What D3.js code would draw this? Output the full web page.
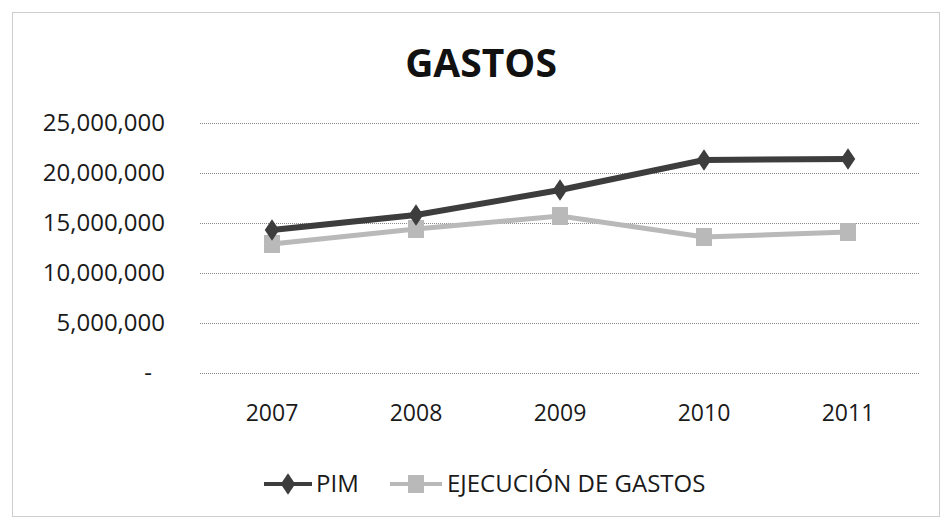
<!DOCTYPE html>
<html><head><meta charset="utf-8">
<script src="https://cdn.jsdelivr.net/npm/d3@7"></script>
<style>body{margin:0;background:#fff}svg{display:block}text{font-family:"Open Sans",sans-serif}</style>
</head><body><svg id="c" width="942" height="518"></svg>
<script>
const years = ["2007","2008","2009","2010","2011"];
const pim = [14300000, 15800000, 18300000, 21300000, 21400000];
const ejecucion = [12900000, 14400000, 15700000, 13600000, 14100000];
const yTicks = [0, 5000000, 10000000, 15000000, 20000000, 25000000];
const seriesNames = ["PIM", "EJECUCIÓN DE GASTOS"];

const FONT = "'Open Sans',sans-serif";
const svg = d3.select("#c");
svg.append("rect").attr("x",12.5).attr("y",12.5).attr("width",927).attr("height",504)
  .attr("fill","none").attr("stroke","#9a9a9a").attr("stroke-width",1).attr("stroke-dasharray","1,1");

svg.append("text").attr("x",481).attr("y",77).attr("text-anchor","middle")
  .attr("font-size",39).attr("font-weight","bold").attr("fill","#111").text("GASTOS");

const x = d3.scaleBand().domain(years).range([200,920]);
const y = d3.scaleLinear().domain([0,25000000]).range([373,123]);

const fmt = v => v===0 ? "-" : d3.format(",")(v);
const gy = svg.append("g").attr("transform","translate(200,0)")
  .call(d3.axisLeft(y).tickValues(yTicks).tickSize(-720).tickFormat(fmt).tickPadding(35));
gy.select(".domain").remove();
gy.selectAll(".tick line").attr("stroke","#8a8a8a").attr("stroke-dasharray","1,1");
gy.selectAll(".tick text").attr("font-size",24).attr("fill","#1a1a1a").attr("font-family",FONT);
gy.selectAll(".tick").filter(d=>d===0).select("text").attr("dx",-13);

const gx = svg.append("g").attr("transform","translate(0,373)")
  .call(d3.axisBottom(x).tickSize(0).tickPadding(32));
gx.select(".domain").remove();
gx.selectAll(".tick text").attr("font-size",23).attr("fill","#1a1a1a").attr("font-family",FONT);

const cx = d => x(d)+x.bandwidth()/2;
const line = d3.line().x((d,i)=>cx(years[i])).y(d=>y(d));

const ejeColor = "#b9b9b9", pimColor = "#3d3d3d";
svg.append("path").datum(ejecucion).attr("d",line).attr("fill","none").attr("stroke",ejeColor).attr("stroke-width",5);
svg.selectAll(".sq").data(ejecucion).join("rect").attr("class","sq")
  .attr("x",(d,i)=>cx(years[i])-8).attr("y",d=>y(d)-9).attr("width",16).attr("height",18).attr("fill",ejeColor);

svg.append("path").datum(pim).attr("d",line).attr("fill","none").attr("stroke",pimColor).attr("stroke-width",6);
const diamond = d3.symbol().type(d3.symbolDiamond).size(150);
svg.selectAll(".dm").data(pim).join("path").attr("class","dm").attr("d",diamond)
  .attr("transform",(d,i)=>`translate(${cx(years[i])},${y(d)}) scale(1.1,0.95)`).attr("fill",pimColor);

// legend
const lg = svg.append("g");
lg.append("line").attr("x1",264).attr("x2",312).attr("y1",484).attr("y2",484).attr("stroke",pimColor).attr("stroke-width",4);
lg.append("path").attr("d",diamond).attr("transform","translate(288,484) scale(1.1,0.95)").attr("fill",pimColor);
lg.append("text").attr("x",316).attr("y",492).attr("font-size",24).attr("fill","#1a1a1a").text(seriesNames[0]);
lg.append("line").attr("x1",390).attr("x2",442).attr("y1",484).attr("y2",484).attr("stroke",ejeColor).attr("stroke-width",4);
lg.append("rect").attr("x",408).attr("y",475).attr("width",16).attr("height",18).attr("fill",ejeColor);
lg.append("text").attr("x",447).attr("y",492).attr("font-size",24).attr("fill","#1a1a1a").text(seriesNames[1]);
</script></body></html>
